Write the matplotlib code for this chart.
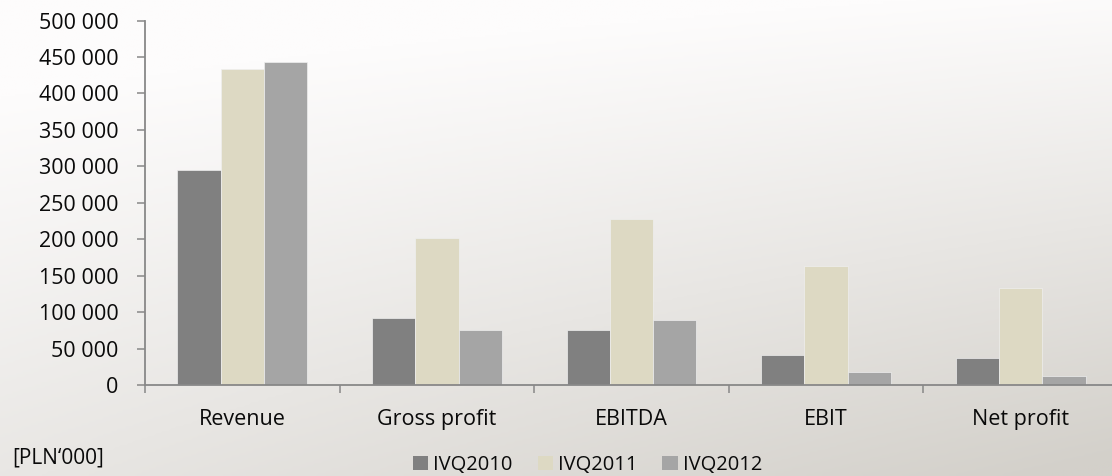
import numpy as np
import matplotlib
matplotlib.use('Agg')
matplotlib.rc('font', family=['Open Sans', 'DejaVu Sans'], size=15)
from matplotlib.colors import LinearSegmentedColormap
from matplotlib.patches import Patch
from matplotlib.ticker import FixedLocator, FuncFormatter
import matplotlib.pyplot as plt

categories = ['Revenue', 'Gross profit', 'EBITDA', 'EBIT', 'Net profit']
series = ['IVQ2010', 'IVQ2011', 'IVQ2012']
ivq2010 = [295000, 91400, 74900, 41100, 36500]
ivq2011 = [433800, 201400, 227400, 163000, 132400]
ivq2012 = [443400, 74900, 89000, 17400, 12300]
colors = ['#808080', '#ddd9c3', '#a5a5a5']
yticks = [0, 50000, 100000, 150000, 200000, 250000, 300000, 350000, 400000, 450000, 500000]

W, H = 1112, 476
axis_grey = '#888888'
text_col = '#0a0a0a'


def main():
    fig = plt.figure(figsize=(W / 100, H / 100), dpi=100)

    # soft grey backdrop, darker towards the lower right
    bg = fig.add_axes([0, 0, 1, 1], zorder=-1)
    yy, xx = np.mgrid[0:1:200j, 0:1:400j]
    t = np.clip(0.6 * yy + 0.4 * xx * yy + 0.15 * xx - 0.12, 0, 1)
    cmap = LinearSegmentedColormap.from_list('bg', ['#fdfcfc', '#d3d0ca'])
    bg.imshow(t, cmap=cmap, vmin=0, vmax=1, aspect='auto',
              interpolation='bilinear', extent=(0, 1, 0, 1), origin='upper')
    bg.axis('off')

    ax = fig.add_axes([145 / W, 91 / H, (1118 - 145) / W, 364.5 / H])
    ax.patch.set_alpha(0)

    x = np.arange(len(categories))
    width = 0.2226
    for i, (vals, name) in enumerate(zip([ivq2010, ivq2011, ivq2012], series)):
        ax.bar(x + (i - 1) * width, vals, width, color=colors[i],
               edgecolor='#efefef', linewidth=0.5, label=name, zorder=2)

    ax.set_xlim(-0.5, len(categories) - 0.5)
    ax.set_ylim(0, 500000)
    ax.set_yticks(yticks)
    ax.yaxis.set_major_formatter(
        FuncFormatter(lambda v, p: f'{v:,.0f}'.replace(',', ' ')))

    ax.set_xticks(x)
    ax.set_xticklabels(categories)
    ax.xaxis.set_minor_locator(FixedLocator(np.arange(-0.5, len(categories), 1)))
    ax.tick_params(axis='x', which='major', length=0, pad=17,
                   labelsize=15.5, labelcolor=text_col)
    ax.tick_params(axis='x', which='minor', length=6, width=1.1,
                   color=axis_grey, direction='out')
    ax.tick_params(axis='y', length=6, width=1.1, color=axis_grey, pad=13,
                   labelsize=15.5, labelcolor=text_col)

    for side in ['top', 'right']:
        ax.spines[side].set_visible(False)
    for side in ['left', 'bottom']:
        ax.spines[side].set_color(axis_grey)
        ax.spines[side].set_linewidth(1.3)

    handles = [Patch(facecolor=c, edgecolor='none') for c in colors]
    fig.legend(handles, series, loc='center', ncol=3, frameon=False,
               bbox_to_anchor=(587.5 / W, 1 - 465 / H), fontsize=14.5,
               handlelength=0.75, handleheight=0.72, handletextpad=0.25,
               columnspacing=1.25, labelcolor=text_col)

    fig.text(12 / W, 1 - 458 / H, '[PLN\u2018000]', ha='left', va='center',
             fontsize=15, color=text_col)

    fig.savefig('out.png', dpi=100)


if __name__ == '__main__':
    main()
